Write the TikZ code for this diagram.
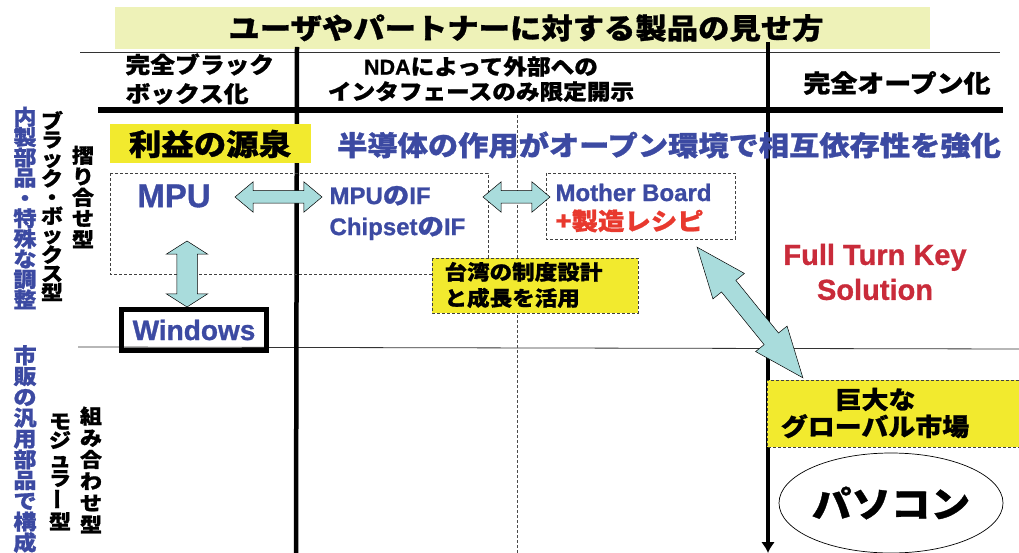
\documentclass[tikz,border=0pt]{standalone}
\usepackage{fontspec}
\setmainfont{Noto Sans CJK JP}[FakeStretch=1.1,BoldFeatures={FakeBold=1}]
\newfontfamily\latfont{Liberation Sans}[BoldFeatures={FakeBold=1}]
\usetikzlibrary{shapes.arrows,shapes.geometric,arrows.meta}

\definecolor{titlebg}{HTML}{EEF2B8}
\definecolor{hiyellow}{HTML}{F2EA2E}
\definecolor{ifblue}{HTML}{3C4AA2}
\definecolor{recipered}{HTML}{E8392E}
\definecolor{turnred}{HTML}{C92B3A}
\definecolor{arrowfill}{HTML}{A9DCDC}

\newcommand{\fs}[2]{\fontsize{#1}{#2}\selectfont\bfseries}

\begin{document}
\begin{tikzpicture}[x=1pt,y=-1pt,
  thickline/.style={line width=4.5pt},
  thinline/.style={line width=0.8pt,draw=black!80},
  dashbox/.style={draw=black!75,line width=0.6pt,dash pattern=on 3pt off 2pt},
  fatarrow/.style={double arrow,draw=black,line width=0.5pt,fill=arrowfill,inner xsep=0pt},
  vtext/.style={align=center,inner sep=0pt}]
\useasboundingbox (0,0) rectangle (1019,553);
%% title and grid
\fill[titlebg] (115,7) rectangle (930,49);
\node (title) [font=\fs{28.5}{30}] at (526,28) {ユーザやパートナーに対する製品の見せ方};
\draw[thinline] (80,52) -- (1000,52);
\draw[thinline] (78,347) -- (1019,349);
\draw[line width=0.6pt,draw=black!70,dash pattern=on 3pt off 2pt] (517,110) -- (517,553);
\draw[line width=6pt] (98,110) -- (1003,110);
\draw[thickline] (297,47) -- (296,553);
\draw[thickline,-{Latex[length=11pt,width=14pt]}] (768,42) -- (768,553);
%% column heads
\node (colblack) [anchor=west,align=left,font=\fs{22.5}{29}] at (122,79) {完全ブラック\\ボックス化};
\node (colnda) [align=center,font=\fs{21.5}{25}] at (481,79) {{\latfont NDA}によって外部への\\インタフェースのみ限定開示};
\node (colopen) [font=\fs{24.5}{26}] at (897,83) {完全オープン化};
%% row heads
\node (inhouse) [vtext,text=ifblue,font=\fs{21}{20.3}] at (25,208) {内\\製\\部\\品\\・\\特\\殊\\な\\調\\整};
\node (blackbox) [vtext,font=\fs{20}{18.8}] at (52,206) {ブ\\ラ\\ッ\\ク\\・\\ボ\\ッ\\ク\\ス\\型};
\node (suriawase) [vtext,font=\fs{20}{21}] at (83,197) {摺\\り\\合\\せ\\型};
\node (market1) [vtext,text=ifblue,font=\fs{21}{20.8}] at (25,449) {市\\販\\の\\汎\\用\\部\\品\\で\\構\\成};
\node (modular) [vtext,font=\fs{20}{19}] at (60,472) {モ\\ジ\\ュ\\ラ\\\rotatebox{90}{ー}\\型};
\node (kumiawase) [vtext,font=\fs{20}{21.7}] at (91,470) {組\\み\\合\\わ\\せ\\型};
%% upper row
\fill[hiyellow] (110,124) rectangle (311,163);
\node (profit) [font=\fs{29.5}{30}] at (210,144) {利益の源泉};
\node (semi) [text=ifblue,font=\fs{27.5}{30}] at (669,145) {半導体の作用がオープン環境で相互依存性を強化};
\draw[dashbox] (110,173) rectangle (488,274);
\draw[dashbox] (546,173) rectangle (735,239);
\node (mpu) [text=ifblue,font=\fs{33}{34}\latfont] at (174,196) {MPU};
\node (mpuif) [anchor=west,align=left,text=ifblue,font=\fs{24}{31}] at (326,213) {{\latfont MPU}の{\latfont IF}\\{\latfont Chipset}の{\latfont IF}};
\node (mb) [anchor=west,align=left,font=\fs{24}{29}] at (552,208) {{\latfont\color{ifblue}Mother Board}\\{\color{recipered}+製造レシピ}};
\draw[line width=5pt] (121,309) rectangle (266,350);
\node (windows) [text=ifblue,font=\fs{28}{30}\latfont] at (194,330) {Windows};
\fill[hiyellow] (432,258) rectangle (638,313);
\draw[dashbox] (432,258) rectangle (638,313);
\node (taiwan) [anchor=west,align=left,font=\fs{20.5}{26}] at (441,285) {台湾の制度設計\\と成長を活用};
\node (turnkey) [align=center,text=turnred,font=\fs{29}{35}\latfont] at (875,272) {Full Turn Key\\Solution};
%% lower row
\fill[hiyellow] (767,380) rectangle (1019,447);
\draw[dashbox] (1019,380) -- (767,380) -- (767,447) -- (1019,447);
\node (market) [align=center,font=\fs{24.5}{27}] at (875,413) {巨大な\\グローバル市場};
\node (pc) [ellipse,draw,line width=0.7pt,minimum width=186pt,minimum height=100pt,inner sep=0pt,font=\fs{36}{38}] at (891,503) {パソコン};
%% fat arrows
\node (mpu2if) [fatarrow,minimum height=87pt,inner ysep=6pt,double arrow head extend=9pt,double arrow tip angle=80] at (278.5,197) {};
\node (if2mb) [fatarrow,minimum height=67pt,inner ysep=6pt,double arrow head extend=9pt,double arrow tip angle=80] at (516.5,197) {};
\node (mpu2win) [fatarrow,rotate=90,minimum height=66pt,inner ysep=10pt,double arrow head extend=10.5pt,double arrow tip angle=115] at (187,274) {};
\node (mb2market) [fatarrow,rotate=-51,minimum height=168pt,inner ysep=9pt,double arrow head extend=11pt,double arrow tip angle=44] at (750,312.5) {};
\end{tikzpicture}
\end{document}
